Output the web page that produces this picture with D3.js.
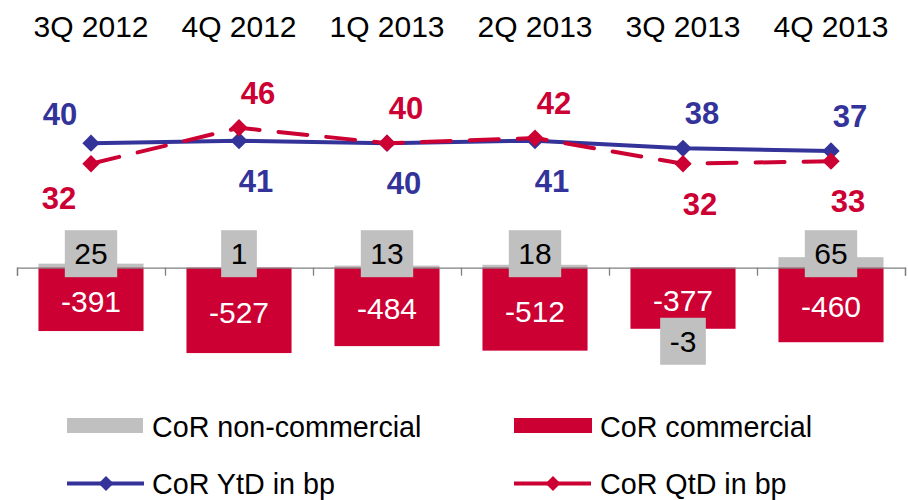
<!DOCTYPE html>
<html>
<head>
<meta charset="utf-8">
<script src="https://cdn.jsdelivr.net/npm/d3@7/dist/d3.min.js"></script>
<style>
  html, body { margin: 0; padding: 0; background: #ffffff; }
  svg { display: block; font-family: "Liberation Sans", Arial, sans-serif; }
</style>
</head>
<body>
<svg id="chart" width="908" height="500"></svg>
<script>
// Quarterly cost of risk
const quarters = ["3Q 2012", "4Q 2012", "1Q 2013", "2Q 2013", "3Q 2013", "4Q 2013"];
const corNonCommercial = [25, 1, 13, 18, -3, 65];
const corCommercial = [-391, -527, -484, -512, -377, -460];
const corYtd = [40, 41, 40, 41, 38, 37];
const corQtd = [32, 46, 40, 42, 32, 33];

// Where each line value label sits relative to its marker
const ytdPlacement = ["above-left", "below", "below", "below", "above", "above"];
const qtdPlacement = ["below-left", "above", "above", "above", "below", "below"];

const legendItems = ["CoR non-commercial", "CoR commercial", "CoR YtD in bp", "CoR QtD in bp"];

const GREY = "#c0c0c0", RED = "#cc0033", BLUE = "#333399", AXIS = "#808080";

const svg = d3.select("#chart");

const x = d3.scaleBand()
  .domain(quarters)
  .range([17, 905])
  .paddingInner(0.29)
  .paddingOuter(0.145);
const cx = q => x(q) + x.bandwidth() / 2;

// bar axis (basis points of volume, absolute)
const yBar = d3.scaleLinear().domain([-600, 100]).range([364.9, 251.5]);
// line axis (bp)
const yLine = d3.scaleLinear().domain([0, 50]).range([246, 117.5]);

// category labels along the top
svg.append("g").selectAll("text")
  .data(quarters)
  .join("text")
  .attr("x", d => cx(d))
  .attr("y", 37)
  .attr("text-anchor", "middle")
  .attr("font-size", 30)
  .attr("fill", "#000")
  .text(d => d);

const barRows = quarters.map((q, i) => ({ q, nc: corNonCommercial[i], c: corCommercial[i] }));

// non-commercial bars
svg.append("g").selectAll("rect")
  .data(barRows)
  .join("rect")
  .attr("x", d => x(d.q))
  .attr("width", x.bandwidth())
  .attr("y", d => yBar(Math.max(0, d.nc)))
  .attr("height", d => Math.abs(yBar(d.nc) - yBar(0)))
  .attr("fill", GREY);

// commercial bars
svg.append("g").selectAll("rect")
  .data(barRows)
  .join("rect")
  .attr("x", d => x(d.q))
  .attr("width", x.bandwidth())
  .attr("y", d => yBar(Math.max(0, d.c)))
  .attr("height", d => Math.abs(yBar(d.c) - yBar(0)))
  .attr("fill", RED);

// commercial values inside the bars
svg.append("g").selectAll("text")
  .data(barRows)
  .join("text")
  .attr("x", d => cx(d.q))
  .attr("y", d => (yBar(0) + yBar(d.c)) / 2 + 2)
  .attr("dy", "0.35em")
  .attr("text-anchor", "middle")
  .attr("font-size", 30)
  .attr("fill", "#ffffff")
  .text(d => d.c);

// category axis with ticks at band boundaries
const edges = d3.scaleLinear().domain([0, quarters.length]).range([17, 905]);
const axisG = svg.append("g")
  .attr("transform", `translate(0,${yBar(0)})`)
  .call(d3.axisBottom(edges).ticks(quarters.length).tickSize(8).tickSizeOuter(8).tickFormat(""));
axisG.selectAll("path, line").attr("stroke", AXIS).attr("stroke-width", 1.3);

// non-commercial value boxes
const ncLabels = svg.append("g").selectAll("g")
  .data(barRows)
  .join("g")
  .attr("transform", d => {
    const cy = d.nc >= 0 ? yBar(0) - 14 : yBar(d.c + d.nc) + 12;
    return `translate(${cx(d.q)},${cy})`;
  });
ncLabels.append("text")
  .attr("text-anchor", "middle")
  .attr("dy", "0.35em")
  .attr("font-size", 30)
  .attr("fill", "#000")
  .text(d => d.nc);
ncLabels.each(function () {
  const g = d3.select(this);
  const w = g.select("text").node().getComputedTextLength();
  g.insert("rect", "text")
    .attr("x", -w / 2 - 9.5)
    .attr("y", -23.5)
    .attr("width", w + 19)
    .attr("height", 47)
    .attr("fill", GREY);
});

// lines
const diamond = d3.symbol().type(d3.symbolSquare).size(150);
const offsets = {
  "above": [19, -24],
  "below": [17, 51],
  "above-left": [-31, -18],
  "below-left": [-32, 45]
};

function drawSeries(values, placement, color, dashed) {
  const pts = quarters.map((q, i) => ({ q, v: values[i], p: placement[i] }));
  const line = d3.line().x(d => cx(d.q)).y(d => yLine(d.v));
  const g = svg.append("g");
  g.append("path")
    .datum(pts)
    .attr("d", line)
    .attr("fill", "none")
    .attr("stroke", color)
    .attr("stroke-width", 4)
    .attr("stroke-linecap", dashed ? "round" : "butt")
    .attr("stroke-dasharray", dashed ? "29,19" : null);
  g.selectAll("path.marker")
    .data(pts)
    .join("path")
    .attr("class", "marker")
    .attr("d", diamond)
    .attr("transform", d => `translate(${cx(d.q)},${yLine(d.v)}) rotate(45)`)
    .attr("fill", color);
  return pts;
}

const ytdPts = drawSeries(corYtd, ytdPlacement, BLUE, false);
const qtdPts = drawSeries(corQtd, qtdPlacement, RED, true);

function drawLabels(pts, color) {
  svg.append("g").selectAll("text")
    .data(pts)
    .join("text")
    .attr("x", d => cx(d.q) + offsets[d.p][0])
    .attr("y", d => yLine(d.v) + offsets[d.p][1])
    .attr("text-anchor", "middle")
    .attr("font-size", 31)
    .attr("font-weight", "bold")
    .attr("fill", color)
    .text(d => d.v);
}
drawLabels(ytdPts, BLUE);
drawLabels(qtdPts, RED);

// legend
const legend = svg.append("g").attr("font-size", 28.7).attr("fill", "#000");
const cols = [67, 514];
const rows = [437, 493.5];

// bar swatches
legend.append("rect").attr("x", cols[0]).attr("y", 418).attr("width", 76).attr("height", 15).attr("fill", GREY);
legend.append("rect").attr("x", cols[1]).attr("y", 418).attr("width", 78).attr("height", 15).attr("fill", RED);

// line swatches
[[cols[0], BLUE], [cols[1], RED]].forEach(([lx, c]) => {
  legend.append("line")
    .attr("x1", lx).attr("x2", lx + 77)
    .attr("y1", 483.5).attr("y2", 483.5)
    .attr("stroke", c).attr("stroke-width", 4);
  legend.append("path")
    .attr("d", d3.symbol().type(d3.symbolSquare).size(112)())
    .attr("transform", `translate(${lx + 39},483.5) rotate(45)`)
    .attr("fill", c);
});

legend.selectAll("text")
  .data(legendItems)
  .join("text")
  .attr("x", (d, i) => (i % 2 === 0 ? 152 : 600))
  .attr("y", (d, i) => rows[Math.floor(i / 2)])
  .text(d => d);
</script>
</body>
</html>
